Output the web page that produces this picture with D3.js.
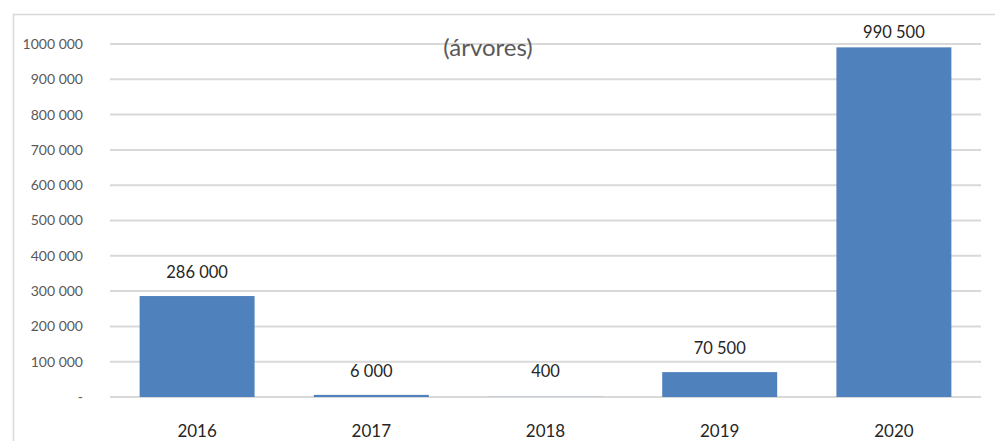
<!DOCTYPE html>
<html>
<head>
<meta charset="utf-8">
<script src="https://cdn.jsdelivr.net/npm/d3@7"></script>
<style>
  body { margin: 0; background: #fff; }
  svg { display: block; font-family: Lato, "Open Sans", sans-serif; }
</style>
</head>
<body>
<div id="chart"></div>
<script>
const years = ["2016", "2017", "2018", "2019", "2020"];
const trees = [286000, 6000, 400, 70500, 990500];
const yTicks = [0, 100000, 200000, 300000, 400000, 500000, 600000, 700000, 800000, 900000, 1000000];

function fmt(v) {
    if (v === 0) return "-";
    return d3.format(",")(v).replace(/,/g, " ").replace(/^1 000 000$/, "1000 000");
}

function drawChart() {
    var width = 995,
        height = 441,
        margin = {top: 44, right: 14, bottom: 44, left: 110};

    var svg = d3.select("#chart")
                .append("svg")
                .attr("width", width)
                .attr("height", height);

    // outer frame
    svg.append("rect")
        .attr("x", 13.5)
        .attr("y", 14.5)
        .attr("width", 1000)
        .attr("height", 500)
        .attr("fill", "none")
        .attr("stroke", "#d9d9d9")
        .attr("stroke-width", 1.5);

    var x = d3.scaleBand()
              .domain(years)
              .range([margin.left, width - margin.right])
              .paddingInner(0.34)
              .paddingOuter(0.17);

    var y = d3.scaleLinear()
              .domain([0, 1000000])
              .range([height - margin.bottom, margin.top]);

    // grid
    svg.append("g")
        .attr("class", "grid")
        .selectAll("line")
        .data(yTicks)
        .enter()
        .append("line")
        .attr("x1", margin.left)
        .attr("x2", width - margin.right)
        .attr("y1", function(d) { return y(d); })
        .attr("y2", function(d) { return y(d); })
        .attr("stroke", "#d9d9d9")
        .attr("stroke-width", 2);

    // y axis labels
    var yAxis = d3.axisLeft(y)
                  .tickValues(yTicks)
                  .tickSize(0)
                  .tickPadding(0)
                  .tickFormat(fmt);

    svg.append("g")
        .attr("transform", "translate(83,0)")
        .call(yAxis)
        .call(function(g) { g.select(".domain").remove(); })
        .selectAll("text")
        .attr("fill", "#595959")
        .attr("font-size", 14)
        .attr("font-family", "Lato, sans-serif");

    // bars
    svg.append("g")
        .selectAll("rect")
        .data(trees)
        .enter()
        .append("rect")
        .attr("x", function(d, i) { return x(years[i]); })
        .attr("width", x.bandwidth())
        .attr("y", function(d) { return y(d); })
        .attr("height", function(d) { return y(0) - y(d); })
        .attr("fill", "#4f81bd");

    // value labels
    svg.append("g")
        .selectAll("text")
        .data(trees)
        .enter()
        .append("text")
        .attr("x", function(d, i) { return x(years[i]) + x.bandwidth() / 2; })
        .attr("y", function(d) { return Math.max(38, Math.min(y(d) - 18, y(0) - 20)); })
        .attr("text-anchor", "middle")
        .attr("font-size", 16.5)
        .attr("fill", "#262626")
        .text(fmt);

    // x axis labels
    var xAxis = d3.axisBottom(x).tickSize(0).tickPadding(0);
    svg.append("g")
        .attr("transform", "translate(0," + (y(0) + 28) + ")")
        .call(xAxis)
        .call(function(g) { g.select(".domain").remove(); })
        .selectAll("text")
        .attr("fill", "#262626")
        .attr("font-size", 17)
        .attr("font-family", "Lato, sans-serif");

    // title
    svg.append("text")
        .attr("x", 488)
        .attr("y", 56)
        .attr("text-anchor", "middle")
        .attr("font-size", 24)
        .attr("fill", "#595959")
        .text("(árvores)");
}

drawChart();
</script>
</body>
</html>
